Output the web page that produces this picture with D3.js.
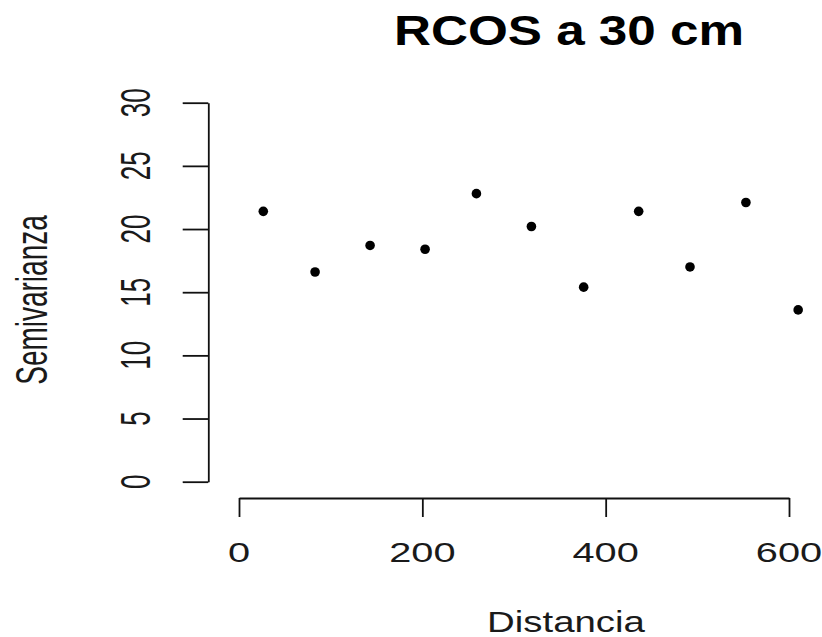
<!DOCTYPE html>
<html>
<head>
<meta charset="utf-8">
<script src="https://cdn.jsdelivr.net/npm/d3@7"></script>
<style>
  body { margin: 0; background: #fff; }
  text { font-family: "Liberation Sans", Arial, sans-serif; fill: #1a1a1a; }
</style>
</head>
<body>
<script>
// data
const distancia = [26.5, 83, 143, 203, 259, 319, 376, 436, 492, 553, 610];
const semivarianza = [21.4, 16.6, 18.7, 18.4, 22.8, 20.2, 15.4, 21.4, 17.0, 22.1, 13.6];
const xTicks = [0, 200, 400, 600];
const yTicks = [0, 5, 10, 15, 20, 25, 30];
const title = "RCOS a 30 cm";
const xLabel = "Distancia";
const yLabel = "Semivarianza";

const width = 822, height = 637;

const svg = d3.select('body').append('svg')
    .attr('width', width)
    .attr('height', height);

const xscale = d3.scaleLinear().domain([0, 600]).range([239, 789]);
const yscale = d3.scaleLinear().domain([0, 30]).range([481.7, 102.7]);

// axes (labels drawn by hand below, the picture is stretched sideways)
const xaxis = d3.axisBottom(xscale).tickValues(xTicks).tickSize(19).tickSizeOuter(0).tickFormat('');
const yaxis = d3.axisLeft(yscale).tickValues(yTicks).tickSize(25.6).tickSizeOuter(0).tickFormat('');

const gx = svg.append('g').attr('transform', 'translate(0,498)').call(xaxis);
const gy = svg.append('g').attr('transform', 'translate(208.3,0)').call(yaxis);

svg.selectAll('.domain, .tick line')
    .attr('stroke', '#111')
    .attr('stroke-width', 1.8);

// x tick labels
svg.append('g').selectAll('g')
    .data(xTicks).join('g')
    .attr('transform', d => `translate(${xscale(d)},562) scale(1.42,1)`)
    .append('text')
    .attr('text-anchor', 'middle')
    .attr('font-size', 28)
    .text(d => d);

// y tick labels, rotated
svg.append('g').selectAll('g')
    .data(yTicks).join('g')
    .attr('transform', d => `translate(150,${yscale(d)}) scale(1.65,1) rotate(-90)`)
    .append('text')
    .attr('text-anchor', 'middle')
    .attr('font-size', 26)
    .text(d => d);

// points
svg.append('g').selectAll('circle')
    .data(distancia).join('circle')
    .attr('cx', d => xscale(d))
    .attr('cy', (d, i) => yscale(semivarianza[i]))
    .attr('r', 4.8)
    .attr('fill', '#000');

// title
svg.append('g')
    .attr('transform', 'translate(569,45) scale(1.22,1)')
    .append('text')
    .attr('text-anchor', 'middle')
    .attr('font-size', 42)
    .attr('font-weight', 'bold')
    .style('fill', '#000')
    .text(title);

// axis titles
svg.append('g')
    .attr('transform', 'translate(566,632) scale(1.28,1)')
    .append('text')
    .attr('text-anchor', 'middle')
    .attr('font-size', 30)
    .text(xLabel);

svg.append('g')
    .attr('transform', 'translate(47,300) scale(1.6,1) rotate(-90)')
    .append('text')
    .attr('text-anchor', 'middle')
    .attr('font-size', 28)
    .text(yLabel);
</script>
</body>
</html>
